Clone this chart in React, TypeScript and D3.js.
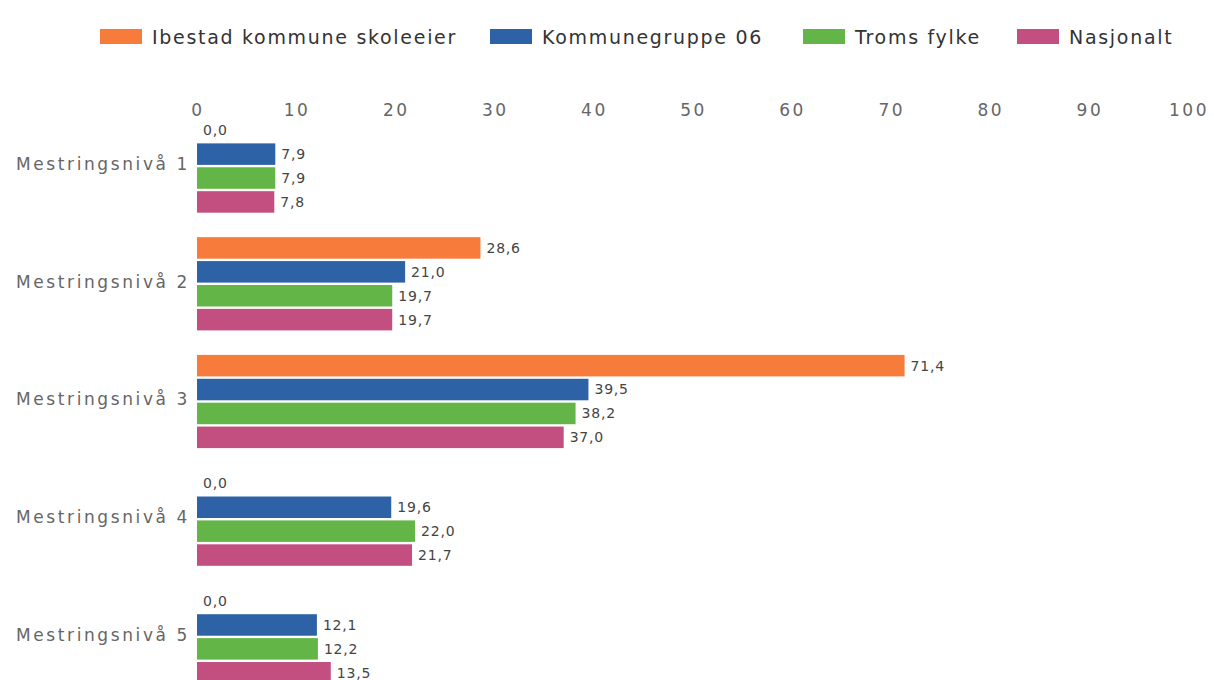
import React from "react";
import * as d3 from "d3";

const categories = ["Mestringsnivå 1", "Mestringsnivå 2", "Mestringsnivå 3", "Mestringsnivå 4", "Mestringsnivå 5"];
const seriesNames = ["Ibestad kommune skoleeier", "Kommunegruppe 06", "Troms fylke", "Nasjonalt"];
const seriesColors = ["#F77B3B", "#2E62A6", "#63B547", "#C24F7F"];
const ibestad = [0.0, 28.6, 71.4, 0.0, 0.0];
const kommunegruppe = [7.9, 21.0, 39.5, 19.6, 12.1];
const troms = [7.9, 19.7, 38.2, 22.0, 12.2];
const nasjonalt = [7.8, 19.7, 37.0, 21.7, 13.5];
const seriesValues = [ibestad, kommunegruppe, troms, nasjonalt];
const xTicks = [0, 10, 20, 30, 40, 50, 60, 70, 80, 90, 100];
const legendX = [100, 490, 803, 1017];

const W = 1214;
const H = 680;
const FONT = "'DejaVu Sans', Verdana, sans-serif";

export default function App() {
  const x = d3.scaleLinear().domain([0, 100]).range([197, 1188]);
  const y = d3.scaleBand<string>().domain(categories).range([119, 684]).paddingInner(0.2).paddingOuter(0);
  const ySub = d3.scaleBand<number>().domain([0, 1, 2, 3]).range([0, y.bandwidth()]).paddingInner(0.1).paddingOuter(0.02);
  const fmt = (v: number) => d3.format(".1f")(v).replace(".", ",");

  return (
    <svg width={W} height={H} style={{ position: "absolute", left: 0, top: 0, background: "#fff" }} fontFamily={FONT}>
      {/* legend */}
      {seriesNames.map((name, i) => (
        <g key={name} transform={`translate(${legendX[i]},0)`}>
          <rect x={0} y={29} width={42} height={15} fill={seriesColors[i]} />
          <text x={52} y={37} dy="0.35em" fontSize={19} fill="#333" letterSpacing={1.7}>{name}</text>
        </g>
      ))}
      {/* x tick labels */}
      {xTicks.map((t) => (
        <text key={t} x={x(t) + 1} y={110} dy="0.35em" textAnchor="middle" fontSize={17} fill="#666" letterSpacing={2.5}>{t}</text>
      ))}
      {/* categories */}
      {categories.map((c, ci) => {
        const y0 = y(c) as number;
        return (
          <g key={c}>
            <text x={190} y={y0 + y.bandwidth() / 2 - 2} dy="0.35em" textAnchor="end" fontSize={17} fill="#666" letterSpacing={2.6}>{c}</text>
            {seriesValues.map((vals, si) => {
              const by = y0 + (ySub(si) as number);
              const v = vals[ci];
              return (
                <g key={si}>
                  <rect x={x(0)} y={by} width={x(v) - x(0)} height={ySub.bandwidth()} fill={seriesColors[si]} />
                  <text x={x(v) + 6} y={by + ySub.bandwidth() / 2} dy="0.35em" fontSize={14} fill="#444" letterSpacing={0.8}>{fmt(v)}</text>
                </g>
              );
            })}
          </g>
        );
      })}
    </svg>
  );
}
